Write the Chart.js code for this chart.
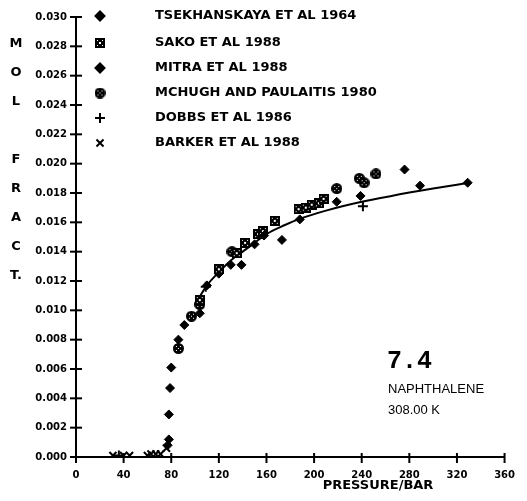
<!DOCTYPE html>
<html>
<head>
<meta charset="utf-8">
<script src="https://cdn.jsdelivr.net/npm/chart.js"></script>
<style>
  html, body { margin: 0; padding: 0; background: #fff; }
  #wrap { width: 527px; height: 501px; }
</style>
</head>
<body>
<div id="wrap"><canvas id="chart" width="527" height="501"></canvas></div>
<script>
// pressure in bar, mole fraction of naphthalene
const tsekP = [77, 78, 78, 79, 80, 86, 91, 104, 130, 139, 150, 158, 173, 188];
const tsekY = [0.0008, 0.0012, 0.0029, 0.0047, 0.0061, 0.0080, 0.0090, 0.0098, 0.0131, 0.0131, 0.0145, 0.0151, 0.0148, 0.0162];

const sakoP = [104, 120, 135, 142, 153, 157, 167, 187, 193, 198, 204, 208];
const sakoY = [0.0107, 0.0128, 0.0139, 0.0146, 0.0152, 0.0154, 0.0161, 0.0169, 0.0170, 0.0172, 0.0173, 0.0176];

const mitraP = [110, 120, 219, 239, 276, 289, 329];
const mitraY = [0.0117, 0.0125, 0.0174, 0.0178, 0.0196, 0.0185, 0.0187];

const mchughP = [86, 97, 104, 131, 219, 238, 242, 252];
const mchughY = [0.0074, 0.0096, 0.0104, 0.0140, 0.0183, 0.0190, 0.0187, 0.0193];

const dobbsP = [36, 109, 241];
const dobbsY = [0.0001, 0.0116, 0.0171];

const barkerP = [31, 40, 45, 60, 63, 67, 71, 76];
const barkerY = [0.0001, 0.0001, 0.0001, 0.0001, 0.0002, 0.0002, 0.0002, 0.0006];

const fitP = [100, 110, 120, 130, 140, 150, 160, 175, 190, 210, 240, 265, 300, 330];
const fitY = [0.0104, 0.0117, 0.0126, 0.0134, 0.0140, 0.0146, 0.0152, 0.0158, 0.0163, 0.0168, 0.0174, 0.0178, 0.0183, 0.0187];

const legendNames = ['TSEKHANSKAYA ET AL 1964', 'SAKO ET AL 1988', 'MITRA ET AL 1988',
                     'MCHUGH AND PAULAITIS 1980', 'DOBBS ET AL 1986', 'BARKER ET AL 1988'];
const yTitle = ['M', 'O', 'L', '', 'F', 'R', 'A', 'C', 'T.'];

function pts(xs, ys) {
    return xs.map((x, i) => ({x: x, y: ys[i]}));
}

// grid square marker
function squareMark() {
    const c = document.createElement('canvas');
    c.width = 10; c.height = 10;
    const g = c.getContext('2d');
    g.fillStyle = '#000';
    g.fillRect(0, 0, 10, 10);
    g.fillStyle = '#fff';
    g.fillRect(2, 2, 1, 1); g.fillRect(7, 2, 1, 1);
    g.fillRect(2, 7, 1, 1); g.fillRect(7, 7, 1, 1);
    g.fillRect(4, 4, 2, 2);
    return c;
}
// patterned circle marker
function circleMark() {
    const c = document.createElement('canvas');
    c.width = 11; c.height = 11;
    const g = c.getContext('2d');
    g.fillStyle = '#000';
    g.beginPath(); g.arc(5.5, 5.5, 5.5, 0, Math.PI * 2); g.fill();
    g.fillStyle = '#fff';
    g.fillRect(3, 3, 1, 1); g.fillRect(7, 3, 1, 1);
    g.fillRect(3, 7, 1, 1); g.fillRect(7, 7, 1, 1);
    g.fillRect(5, 5, 1, 1);
    return c;
}

const sq = squareMark();
const ci = circleMark();

function ds(label, data, style, radius, bw) {
    return {
        label: label, data: data, showLine: false,
        pointStyle: style, pointRadius: radius, pointHoverRadius: radius,
        pointBorderWidth: bw, pointBackgroundColor: '#000', pointBorderColor: '#000'
    };
}

const datasets = [
    ds(legendNames[0], pts(tsekP, tsekY), 'rectRot', 4.5, 1),
    ds(legendNames[1], pts(sakoP, sakoY), sq, 5, 1),
    ds(legendNames[2], pts(mitraP, mitraY), 'rectRot', 4.5, 1),
    ds(legendNames[3], pts(mchughP, mchughY), ci, 5.5, 1),
    ds(legendNames[4], pts(dobbsP, dobbsY), 'cross', 5, 2),
    ds(legendNames[5], pts(barkerP, barkerY), 'crossRot', 5, 2),
    {
        label: 'fit', data: pts(fitP, fitY), showLine: true, pointRadius: 0,
        borderColor: '#000', borderWidth: 2, cubicInterpolationMode: 'monotone', fill: false
    }
];

const decor = {
    id: 'decor',
    afterDraw(chart) {
        const ctx = chart.ctx;
        const xs = chart.scales.x, ys = chart.scales.y;
        const a = chart.chartArea;
        ctx.save();
        ctx.strokeStyle = '#000';
        ctx.lineWidth = 2;
        // crossing ticks
        xs.ticks.forEach(t => {
            const px = xs.getPixelForValue(t.value);
            ctx.beginPath(); ctx.moveTo(px, a.bottom - 4); ctx.lineTo(px, a.bottom + 6); ctx.stroke();
        });
        ys.ticks.forEach(t => {
            const py = ys.getPixelForValue(t.value);
            ctx.beginPath(); ctx.moveTo(a.left - 6, py); ctx.lineTo(a.left + 6, py); ctx.stroke();
        });

        ctx.fillStyle = '#000';
        ctx.textBaseline = 'middle';
        // vertical axis title
        ctx.font = 'bold 13px "DejaVu Sans"';
        ctx.textAlign = 'center';
        yTitle.forEach((s, i) => ctx.fillText(s, 16, 44 + 29 * i));

        // x axis title
        ctx.font = 'bold 13px "DejaVu Sans"';
        ctx.fillText('PRESSURE/BAR', 378, 486);

        // legend
        const rows = [16, 43, 68, 93, 118, 143];
        ctx.textAlign = 'left';
        ctx.font = 'bold 13px "DejaVu Sans"';
        legendNames.forEach((name, i) => {
            const d = chart.data.datasets[i];
            Chart.helpers.drawPoint(ctx, {
                pointStyle: d.pointStyle, radius: d.pointRadius,
                borderWidth: d.pointBorderWidth, rotation: 0
            }, 100, rows[i]);
            ctx.fillText(name, 155, rows[i]);
        });

        // annotation
        ctx.font = 'bold 25px "Liberation Mono"';
        ctx.fillText('7.4', 387, 362);
        ctx.font = '13px "Liberation Sans"';
        ctx.fillText('NAPHTHALENE', 388, 389);
        ctx.fillText('308.00 K', 388, 410);
        ctx.restore();
    },
    beforeDatasetsDraw(chart) {
        chart.ctx.fillStyle = '#000';
        chart.ctx.strokeStyle = '#000';
    }
};

new Chart(document.getElementById('chart'), {
    type: 'scatter',
    data: {datasets: datasets},
    options: {
        responsive: false,
        animation: false,
        events: [],
        layout: {padding: {top: 17, right: 12, left: 0, bottom: 0}},
        plugins: {legend: {display: false}, tooltip: {enabled: false}},
        scales: {
            x: {
                type: 'linear', min: 0, max: 360,
                afterFit: s => { s.height = 44; },
                ticks: {stepSize: 40, color: '#000', padding: 12,
                        font: {family: 'DejaVu Sans', size: 10, weight: 'bold'}},
                grid: {drawOnChartArea: false, drawTicks: false},
                border: {color: '#000', width: 2}
            },
            y: {
                type: 'linear', min: 0, max: 0.030,
                afterFit: s => { s.width = 76; },
                ticks: {stepSize: 0.002, color: '#000', padding: 9,
                        callback: v => v.toFixed(3),
                        font: {family: 'DejaVu Sans', size: 10, weight: 'bold'}},
                grid: {drawOnChartArea: false, drawTicks: false},
                border: {color: '#000', width: 2}
            }
        }
    },
    plugins: [decor]
});
</script>
</body>
</html>
